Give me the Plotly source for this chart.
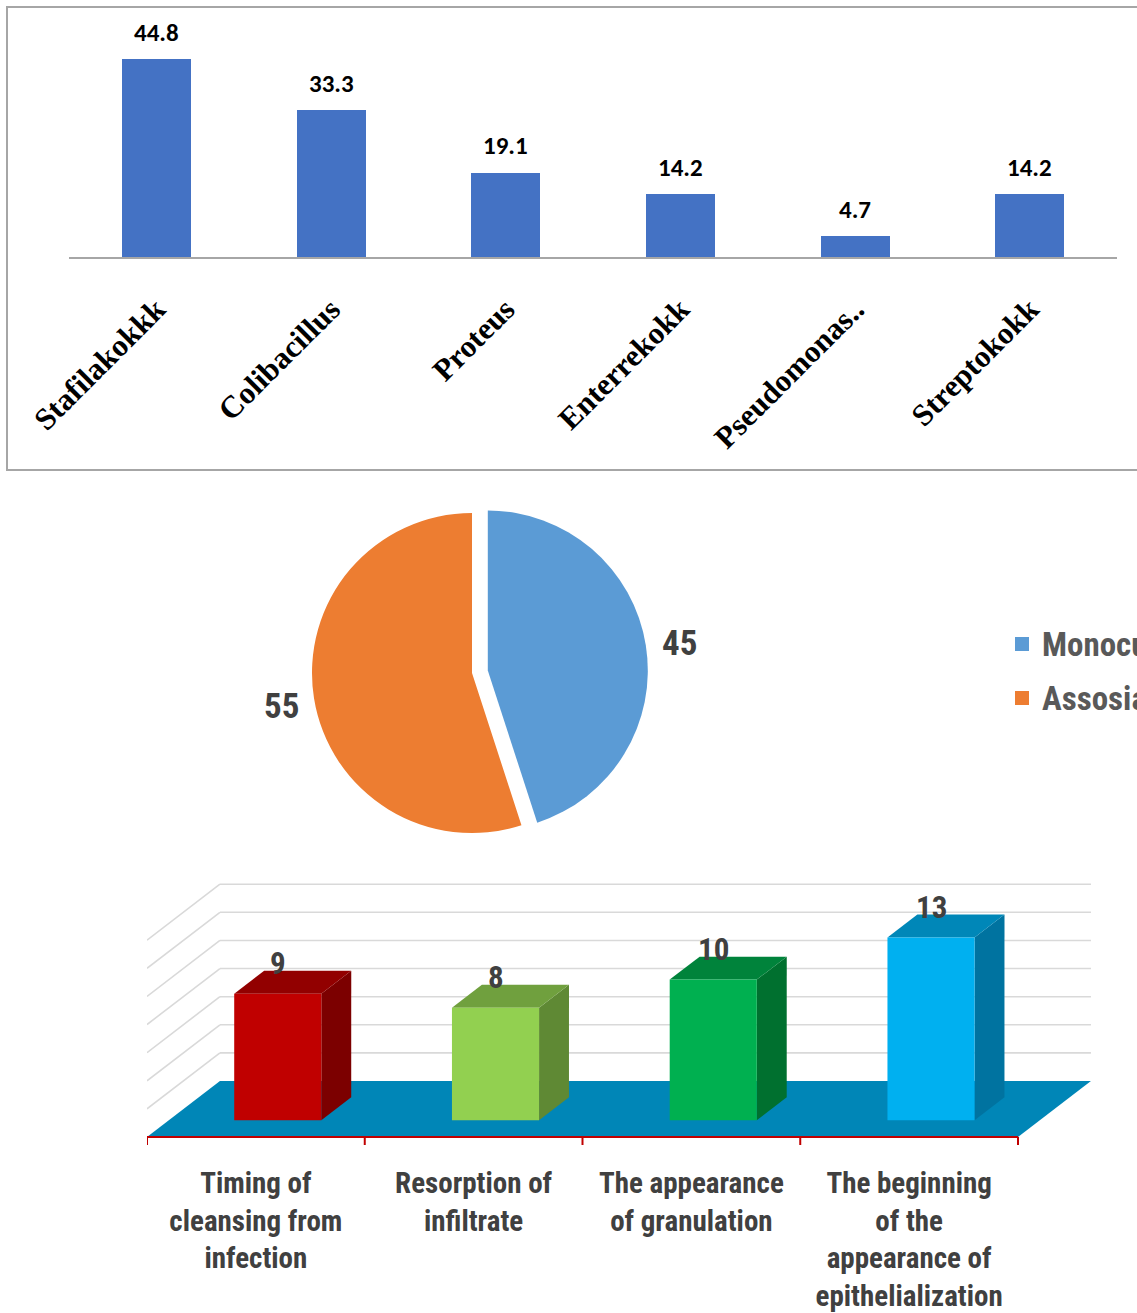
import plotly.graph_objects as go

W, H = 1137, 1313

# --- Microflora composition (top bar chart) ---
microbes = ["Stafilakokkk", "Colibacillus", "Proteus", "Enterrekokk", "Pseudomonas..", "Streptokokk"]
microbe_pct = [44.8, 33.3, 19.1, 14.2, 4.7, 14.2]

# --- Mono vs associated flora (pie) ---
flora_types = ["Monoculture", "Assosiation"]
flora_pct = [45, 55]
flora_colors = ["#5B9BD5", "#ED7D31"]

# --- Wound healing stages, days (pseudo-3D bars) ---
stages = [
    "Timing of<br>cleansing from<br>infection",
    "Resorption of<br>infiltrate",
    "The appearance<br>of granulation",
    "The beginning<br>of the<br>appearance of<br>epithelialization",
]
stage_days = [9, 8, 10, 13]
face_front = ["#C00000", "#92D050", "#00B050", "#00B0F0"]
face_top = ["#920000", "#70A03E", "#00833B", "#0087B8"]
face_side = ["#7C0000", "#5F8934", "#00702F", "#0073A0"]
wall_ticks = [2, 4, 6, 8, 10, 12, 14]

NARROW = "Roboto Condensed, Arial Narrow, Liberation Sans, Arial, sans-serif"
SERIF = "Liberation Serif, Times New Roman, serif"
CALIBRI = "Carlito, Calibri, Roboto, sans-serif"


def fx(px):
    return px / W


def fy(py):
    return 1 - py / H


fig = go.Figure()

# ---------------- top: bar chart ----------------
fig.add_trace(go.Bar(
    x=microbes, y=microbe_pct, width=0.395,
    marker=dict(color="#4472C4", line=dict(width=0)),
    xaxis="x", yaxis="y", showlegend=False, hoverinfo="x+y",
))
for name, v in zip(microbes, microbe_pct):
    fig.add_annotation(
        x=name, y=v, xref="x", yref="y", text=f"{v}", showarrow=False,
        xanchor="center", yanchor="middle", yshift=27,
        font=dict(family=CALIBRI, size=25, color="#000000", weight="bold"),
    )

# ---------------- middle: pie ----------------
R_PIE = 160
PULL = 0.1
cx, cy = 472, 673
half = R_PIE * (1 + PULL)
fig.add_trace(go.Pie(
    values=flora_pct, labels=flora_types, sort=False, direction="clockwise", rotation=0,
    pull=[PULL, 0], marker=dict(colors=flora_colors, line=dict(width=0)),
    textinfo="none", showlegend=False, hoverinfo="label+value",
    domain=dict(x=[fx(cx - half), fx(cx + half)], y=[fy(cy + half), fy(cy - half)]),
))
for v, (lx, ly) in zip(flora_pct, [(679, 643), (281, 706)]):
    fig.add_annotation(
        x=fx(lx), y=fy(ly), xref="paper", yref="paper", text=f"{v}", showarrow=False,
        xanchor="center", yanchor="middle",
        font=dict(family=NARROW, size=35, color="#404040", weight="bold"),
    )
# legend
for k, (name, col) in enumerate(zip(flora_types, flora_colors)):
    ly = 644 + 54 * k
    fig.add_shape(type="rect", xref="paper", yref="paper",
                  x0=fx(1015), x1=fx(1029), y0=fy(ly + 7), y1=fy(ly - 7),
                  fillcolor=col, line=dict(width=0))
    fig.add_annotation(
        x=fx(1040), y=fy(ly), xref="paper", yref="paper", text=name, showarrow=False,
        xanchor="left", yanchor="middle",
        font=dict(family=NARROW, size=33, color="#595959", weight="bold"),
    )

# ---------------- bottom: pseudo-3D bars ----------------
DX, DY = 0.335, 3.98       # offset of the back wall in (category, value) units
D0, D1 = 0.30, 0.71        # depth of bar front / back faces
HW = 0.2                   # half bar width
TICK_LEN = 0.57
n = len(stages)


def proj(x, v, d):
    return x + d * DX, v + d * DY


def poly(pts):
    xs = [p[0] for p in pts] + [pts[0][0]]
    ys = [p[1] for p in pts] + [pts[0][1]]
    return xs, ys


def add_face(pts, color):
    xs, ys = poly(pts)
    fig.add_trace(go.Scatter(
        x=xs, y=ys, mode="lines", fill="toself", fillcolor=color,
        line=dict(width=0, color=color), xaxis="x2", yaxis="y2",
        showlegend=False, hoverinfo="skip",
    ))


# back wall grid + left wall diagonals
gx, gy = [], []
for g in wall_ticks:
    for a, b in [(proj(-0.5, g, 1), proj(n - 0.5, g, 1)), (proj(-0.5, g, 0), proj(-0.5, g, 1))]:
        gx += [a[0], b[0], None]
        gy += [a[1], b[1], None]
fig.add_trace(go.Scatter(x=gx, y=gy, mode="lines", line=dict(color="#D9D9D9", width=1.6),
                         xaxis="x2", yaxis="y2", showlegend=False, hoverinfo="skip"))

# floor
add_face([proj(-0.5, 0, 0), proj(n - 0.5, 0, 0), proj(n - 0.5, 0, 1), proj(-0.5, 0, 1)], "#0086B7")

# bars
for i, v in enumerate(stage_days):
    add_face([proj(i + HW, 0, D0), proj(i + HW, 0, D1), proj(i + HW, v, D1), proj(i + HW, v, D0)], face_side[i])
    add_face([proj(i - HW, v, D0), proj(i + HW, v, D0), proj(i + HW, v, D1), proj(i - HW, v, D1)], face_top[i])
    add_face([proj(i - HW, 0, D0), proj(i + HW, 0, D0), proj(i + HW, v, D0), proj(i - HW, v, D0)], face_front[i])
    tx, ty = proj(i, v, D0)
    fig.add_annotation(
        x=tx, y=ty, xref="x2", yref="y2", text=f"{v}", showarrow=False,
        xanchor="center", yanchor="middle", yshift=30,
        font=dict(family=NARROW, size=31, color="#404040", weight="bold"),
    )

# red category axis with boundary ticks
ax_x, ax_y = [-0.5, n - 0.5, None], [0, 0, None]
for k in range(n + 1):
    b = k - 0.5
    ax_x += [b, b, None]
    ax_y += [0, -TICK_LEN, None]
fig.add_trace(go.Scatter(x=ax_x, y=ax_y, mode="lines", line=dict(color="#C00000", width=2),
                         xaxis="x2", yaxis="y2", showlegend=False, hoverinfo="skip"))

# top panel frame
fig.add_shape(type="rect", xref="paper", yref="paper",
              x0=fx(7), x1=fx(W + 10), y0=fy(470), y1=fy(7),
              line=dict(color="#A6A6A6", width=2), fillcolor="rgba(0,0,0,0)")

PX_PER_PCT = 4.41
PX_PER_DAY = 14.06
PX_PER_CAT = 217.75

fig.update_layout(
    width=W, height=H,
    margin=dict(l=0, r=0, t=0, b=0, autoexpand=False),
    paper_bgcolor="white", plot_bgcolor="rgba(0,0,0,0)",
    bargap=0,
    xaxis=dict(
        domain=[fx(69), fx(1117)], anchor="y", range=[-0.5, 5.5],
        showline=True, linecolor="#A6A6A6", linewidth=1.5, showgrid=False, zeroline=False,
        ticks="", tickangle=-45, ticklabelstandoff=20,
        tickfont=dict(family=SERIF, size=31, color="#000000", weight="bold"),
    ),
    yaxis=dict(
        domain=[fy(257), fy(20)], anchor="x", range=[0, (257 - 20) / PX_PER_PCT],
        visible=False,
    ),
    xaxis2=dict(
        domain=[fx(147), fx(1100)], anchor="y2",
        range=[-0.5, -0.5 + (1100 - 147) / PX_PER_CAT],
        showline=False, showgrid=False, zeroline=False, ticks="",
        tickvals=list(range(n)), ticktext=stages, tickangle=0, ticklabelstandoff=11,
        tickfont=dict(family=NARROW, size=29, color="#404040", weight="bold"),
    ),
    yaxis2=dict(
        domain=[fy(1152), fy(870)], anchor="x2",
        range=[-(1152 - 1137) / PX_PER_DAY, (1137 - 870) / PX_PER_DAY],
        visible=False,
    ),
)

fig.write_html("out.html")
